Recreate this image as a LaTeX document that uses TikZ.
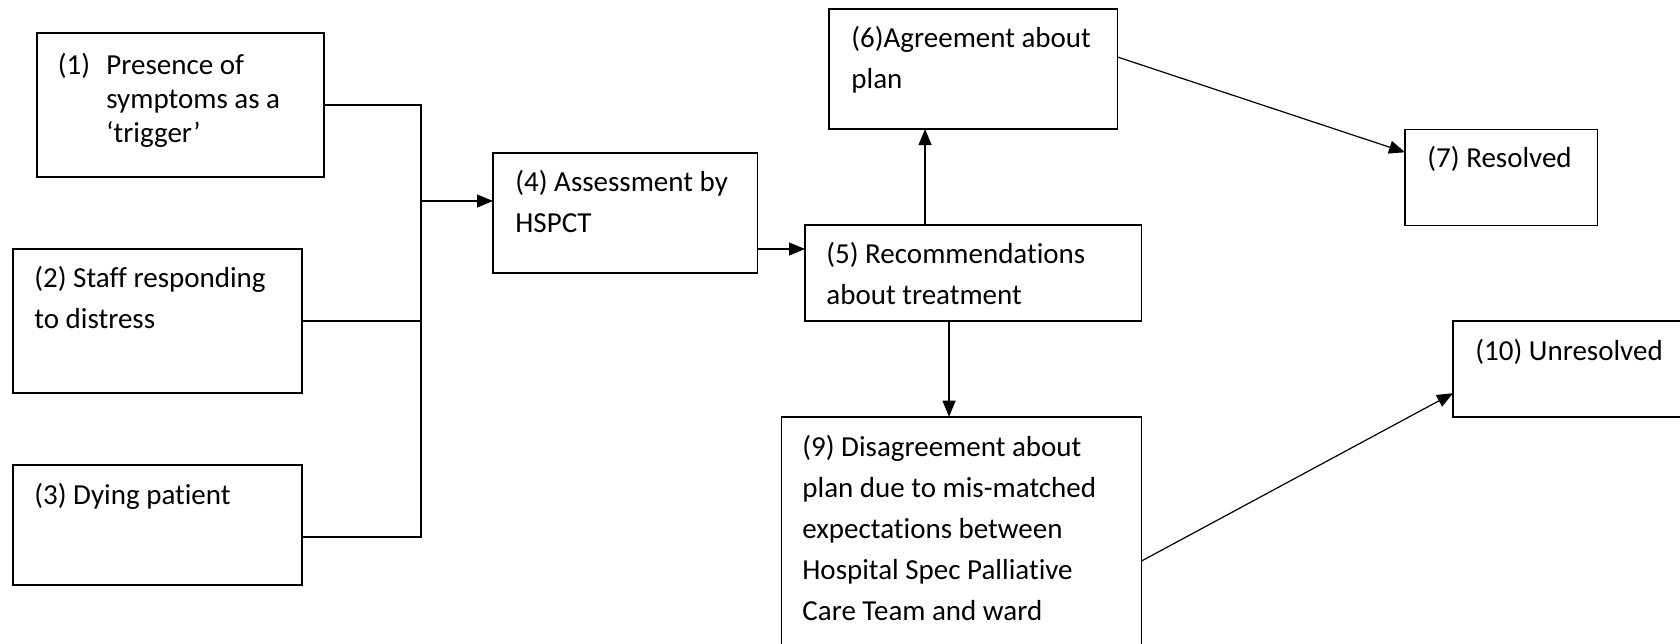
\documentclass[tikz,border=0pt]{standalone}
\usepackage{fontspec}
\setmainfont{Carlito}[Ligatures={TeX,NoCommon}]
\usetikzlibrary{arrows.meta}

\tikzset{
  stage/.style={draw,line width=0.9pt,inner sep=0pt,outer sep=0pt},
  stagetext/.style={anchor=base west,inner sep=0pt,align=left,font=\fontsize{14.5}{20.5}\selectfont},
  flow/.style={line width=0.6pt},
  flowarr/.style={flow,-{Triangle[length=8pt,width=6.5pt]}}
}

\begin{document}
\begin{tikzpicture}[x=0.5pt,y=-0.5pt]
\useasboundingbox(0,0)rectangle(1680,643);
\clip(0,0)rectangle(1680,643);
% boxes
\node[stage,minimum width=143.5pt,minimum height=72pt](trig)at(180.5,105){};
\node[stage,minimum width=144.5pt,minimum height=72pt](staff)at(157.5,321){};
\node[stage,minimum width=144.5pt,minimum height=60pt](dying)at(157.5,525){};
\node[stage,minimum width=132.25pt,minimum height=60pt](assess)at(625.25,213){};
\node[stage,minimum width=168.25pt,minimum height=48pt](recom)at(973.25,273){};
\node[stage,minimum width=144.25pt,minimum height=60pt](agree)at(973.25,69){};
\node[stage,minimum width=96.25pt,minimum height=48pt](resolved)at(1501.25,177.5){};
\node[stage,minimum width=180pt,minimum height=132pt](disagree)at(961.5,548.7){};
\node[stage,minimum width=133.5pt,minimum height=47.85pt](unresolved)at(1586.5,368.85){};
% texts (anchored at the baseline of the last line)
\node[stagetext,font=\fontsize{14.5}{16.9}\selectfont](ttrig)at(57.5,142){\makebox[24.25pt][l]{(1)}Presence of\\
  \hspace*{24.25pt}symptoms as a\\\hspace*{24.25pt}‘trigger’};
\node[stagetext](tstaff)at(34,328){(2) Staff responding\\to distress};
\node[stagetext](tdying)at(34,504){(3) Dying patient};
\node[stagetext](tassess)at(515,232){(4) Assessment by\\HSPCT};
\node[stagetext](trecom)at(826,304){(5) Recommendations\\about treatment};
\node[stagetext](tagree)at(851,88){(6)Agreement about\\plan};
\node[stagetext](tresolved)at(1427,167){(7) Resolved};
\node[stagetext](tdisagree)at(802,620){(9) Disagreement about\\plan due to mis-matched\\expectations between\\
  Hospital Spec Palliative\\Care Team and ward};
\node[stagetext](tunresolved)at(1475,360){(10) Unresolved};
% junction of the three triggers
\coordinate(jtop)at(421,105);
\coordinate(jmid)at(421,201);
\coordinate(jbot)at(421,537);
\draw[flow](trig.east)--(jtop)--(jbot)--(dying.east|-jbot);
\draw[flow](staff.east)--(staff.east-|jtop);
\draw[flowarr](jmid)--(jmid-|assess.west);
% outcomes
\draw[flowarr]([yshift=-18pt]assess.east)--([yshift=-18pt]assess.east-|recom.west);
\draw[flowarr]([xshift=-24.1pt]recom.north)--([xshift=-24.1pt]recom.north|-agree.south);
\draw[flowarr]([xshift=-12.1pt]recom.south)--([xshift=-12.1pt]recom.south|-disagree.north);
\draw[flowarr]([yshift=6pt]agree.east)--([yshift=12.6pt]resolved.west);
\draw[flowarr]([yshift=-6.15pt]disagree.east)--([yshift=-12.2pt]unresolved.west);
\end{tikzpicture}
\end{document}
